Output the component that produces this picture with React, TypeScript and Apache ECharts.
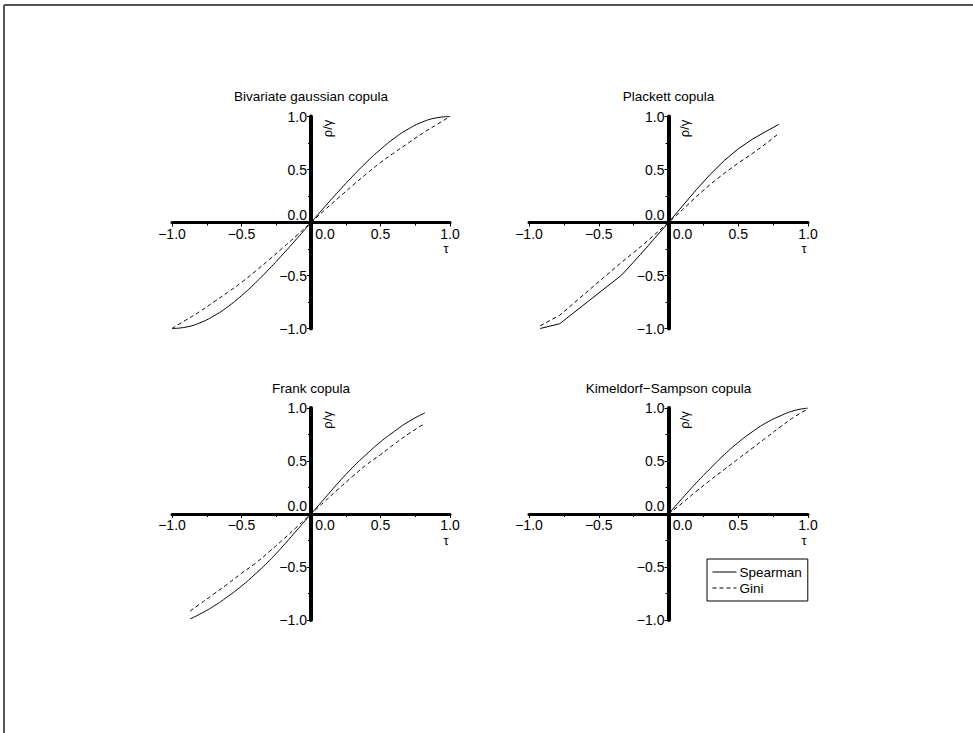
import React, { useEffect, useRef } from 'react';
import * as echarts from 'echarts';

// Panel titles
const panelTitles = [
  'Bivariate gaussian copula',
  'Plackett copula',
  'Frank copula',
  'Kimeldorf\u2212Sampson copula',
];

// Bivariate gaussian copula
const gaussTau = [-1, -0.9, -0.8, -0.7, -0.6, -0.5, -0.4, -0.3, -0.2, -0.1, 0, 0.1, 0.2, 0.3, 0.4, 0.5, 0.6, 0.7, 0.8, 0.9, 1];
const gaussSpearman = [-1, -0.987, -0.947, -0.882, -0.796, -0.69, -0.57, -0.437, -0.296, -0.15, 0, 0.15, 0.296, 0.437, 0.57, 0.69, 0.796, 0.882, 0.947, 0.987, 1];
const gaussGini = [-1, -0.92, -0.84, -0.75, -0.66, -0.565, -0.46, -0.35, -0.235, -0.12, 0, 0.12, 0.235, 0.35, 0.46, 0.565, 0.66, 0.75, 0.84, 0.92, 1];

// Plackett copula
const plackettTauS = [-0.92, -0.78, -0.335, -0.2, -0.1, 0, 0.1, 0.2, 0.3, 0.4, 0.5, 0.6, 0.7, 0.79];
const plackettSpearman = [-1.0, -0.955, -0.495, -0.3, -0.15, 0, 0.155, 0.31, 0.455, 0.585, 0.695, 0.785, 0.86, 0.925];
const plackettTauG = [-0.92, -0.78, -0.35, -0.2, -0.1, 0, 0.1, 0.2, 0.3, 0.4, 0.5, 0.6, 0.7, 0.79];
const plackettGini = [-0.975, -0.875, -0.39, -0.23, -0.115, 0, 0.12, 0.245, 0.36, 0.465, 0.56, 0.65, 0.745, 0.84];

// Frank copula
const frankTau = [-0.87, -0.8, -0.7, -0.6, -0.5, -0.4, -0.3, -0.2, -0.1, 0, 0.1, 0.2, 0.3, 0.4, 0.5, 0.6, 0.7, 0.82];
const frankSpearman = [-0.99, -0.945, -0.87, -0.78, -0.68, -0.565, -0.44, -0.3, -0.15, 0, 0.15, 0.3, 0.44, 0.565, 0.68, 0.78, 0.87, 0.955];
const frankGini = [-0.915, -0.85, -0.755, -0.66, -0.56, -0.465, -0.355, -0.24, -0.12, 0, 0.12, 0.24, 0.355, 0.465, 0.56, 0.66, 0.755, 0.855];

// Kimeldorf-Sampson copula
const ksTau = [0, 0.1, 0.2, 0.3, 0.4, 0.5, 0.6, 0.7, 0.8, 0.9, 1];
const ksSpearman = [0, 0.15, 0.295, 0.43, 0.56, 0.675, 0.775, 0.86, 0.925, 0.975, 1];
const ksGini = [0, 0.105, 0.215, 0.32, 0.42, 0.52, 0.62, 0.72, 0.82, 0.915, 0.99];

const zip = (xs: number[], ys: number[]) => xs.map((x, i) => [x, ys[i]]);

const panelSeries = [
  { s: zip(gaussTau, gaussSpearman), g: zip(gaussTau, gaussGini), smooth: 0.5 as number | boolean },
  { s: zip(plackettTauS, plackettSpearman), g: zip(plackettTauG, plackettGini), smooth: false as number | boolean },
  { s: zip(frankTau, frankSpearman), g: zip(frankTau, frankGini), smooth: 0.5 as number | boolean },
  { s: zip(ksTau, ksSpearman), g: zip(ksTau, ksGini), smooth: 0.5 as number | boolean },
];

const FONT = '"Liberation Sans", Arial, sans-serif';

const grids = [
  { left: 172, top: 116.5, width: 278, height: 212 },
  { left: 529, top: 116.5, width: 279, height: 212 },
  { left: 172, top: 408, width: 278, height: 212 },
  { left: 529, top: 408, width: 279, height: 212 },
];

const fmt = (v: number) => (v < 0 ? '\u2212' : '') + Math.abs(v).toFixed(1);

export default function App() {
  const ref = useRef<HTMLDivElement>(null);

  useEffect(() => {
    if (!ref.current) return;
    const chart = echarts.init(ref.current, undefined, { renderer: 'svg' });

    // Axes cross at the origin: each axis is shifted from its grid edge to the middle
    const xAxes = grids.map((g, i) => ({
      type: 'value',
      gridIndex: i,
      min: -1,
      max: 1,
      interval: 0.5,
      position: 'bottom',
      offset: -g.height / 2,
      axisLine: { onZero: false, lineStyle: { color: '#000', width: 3 } },
      axisTick: { show: true, length: 4, lineStyle: { color: '#000', width: 1 } },
      minorTick: { show: true, splitNumber: 2, length: 3, lineStyle: { color: '#000', width: 1 } },
      splitLine: { show: false },
      minorSplitLine: { show: false },
      axisLabel: {
        margin: 4,
        color: '#000',
        fontSize: 14,
        fontFamily: FONT,
        formatter: (v: number) => (v === 0 ? '{z|0.0}' : fmt(v)),
        rich: { z: { padding: [0, 0, 0, 28], fontSize: 14, fontFamily: FONT, color: '#000' } },
      },
    }));

    const yAxes = grids.map((g, i) => ({
      type: 'value',
      gridIndex: i,
      min: -1,
      max: 1,
      interval: 0.5,
      position: 'left',
      offset: -g.width / 2,
      axisLine: { onZero: false, lineStyle: { color: '#000', width: 4 } },
      axisTick: { show: true, length: 4, lineStyle: { color: '#000', width: 1 } },
      minorTick: { show: true, splitNumber: 2, length: 3, lineStyle: { color: '#000', width: 1 } },
      splitLine: { show: false },
      minorSplitLine: { show: false },
      axisLabel: {
        margin: 4,
        color: '#000',
        fontSize: 14,
        fontFamily: FONT,
        formatter: (v: number) => (v === 0 ? '{z|0.0}' : fmt(v)),
        rich: { z: { padding: [0, 0, 16, 0], fontSize: 14, fontFamily: FONT, color: '#000' } },
      },
    }));

    const series: any[] = [];
    panelSeries.forEach((p, i) => {
      series.push({
        name: 'Spearman',
        type: 'line',
        xAxisIndex: i,
        yAxisIndex: i,
        data: p.s,
        symbol: 'none',
        smooth: p.smooth,
        lineStyle: { color: '#000', width: 1, type: 'solid' },
        itemStyle: { color: '#000' },
      });
      series.push({
        name: 'Gini',
        type: 'line',
        xAxisIndex: i,
        yAxisIndex: i,
        data: p.g,
        symbol: 'none',
        smooth: p.smooth,
        lineStyle: { color: '#000', width: 1, type: [4, 3] },
        itemStyle: { color: '#000' },
      });
    });

    const titles = grids.map((g, i) => ({
      text: panelTitles[i],
      left: g.left + g.width / 2,
      top: g.top - 27,
      textAlign: 'center',
      padding: 0,
      textStyle: { fontSize: 13.5, fontWeight: 'normal', fontFamily: FONT, color: '#000' },
    }));

    // Axis names: ρ/γ beside the vertical axis, τ under the right end of the horizontal axis
    const axisNames: any[] = [];
    grids.forEach((g) => {
      const cx = g.left + g.width / 2;
      const cy = g.top + g.height / 2;
      axisNames.push({
        type: 'text',
        x: cx + 16,
        y: g.top + 12,
        rotation: Math.PI / 2,
        style: {
          text: '\u03c1/\u03b3',
          fontSize: 13,
          fontFamily: FONT,
          fill: '#000',
          align: 'center',
          verticalAlign: 'middle',
        },
      });
      axisNames.push({
        type: 'text',
        x: g.left + g.width - 4,
        y: cy + 26,
        style: {
          text: '\u03c4',
          fontSize: 13,
          fontFamily: FONT,
          fill: '#000',
          align: 'center',
          verticalAlign: 'middle',
        },
      });
    });

    chart.setOption({
      animation: false,
      backgroundColor: '#fff',
      title: titles,
      grid: grids.map((g) => ({ ...g, containLabel: false })),
      xAxis: xAxes,
      yAxis: yAxes,
      legend: {
        data: ['Spearman', 'Gini'],
        orient: 'vertical',
        left: 707,
        top: 559,
        borderColor: '#000',
        borderWidth: 1,
        padding: [6, 6, 6, 5],
        itemGap: 2,
        itemWidth: 24,
        itemHeight: 12,
        selectedMode: false,
        lineStyle: { width: 1 },
        itemStyle: { color: 'rgba(0,0,0,0)', borderColor: 'rgba(0,0,0,0)', borderWidth: 0 },
        textStyle: { fontSize: 13.5, fontFamily: FONT, color: '#000', padding: [0, 0, 0, -2] },
      },
      graphic: [
        // page frame
        { type: 'line', shape: { x1: 4, y1: 5, x2: 973, y2: 5 }, style: { stroke: '#555', lineWidth: 2 } },
        { type: 'line', shape: { x1: 4, y1: 5, x2: 4, y2: 733 }, style: { stroke: '#555', lineWidth: 2 } },
        ...axisNames,
      ],
      series,
    });

    return () => chart.dispose();
  }, []);

  return (
    <div
      ref={ref}
      style={{ position: 'fixed', left: 0, top: 0, width: 973, height: 733, background: '#fff' }}
    />
  );
}
